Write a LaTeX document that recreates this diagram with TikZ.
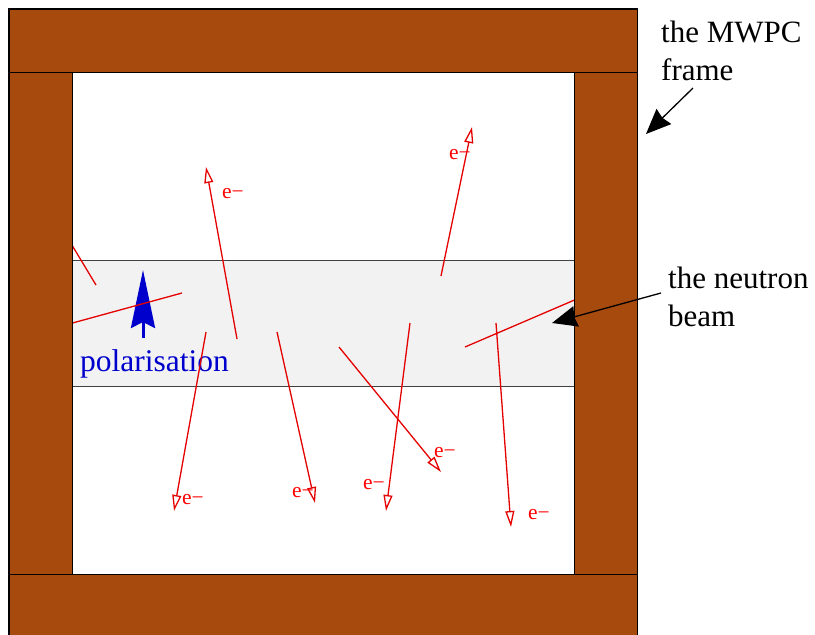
\documentclass[tikz,border=0pt]{standalone}
\usepackage{fontspec}
\setmainfont{Liberation Serif}
\usetikzlibrary{arrows.meta}
\definecolor{framebrown}{RGB}{166,74,14}
\definecolor{beamgrey}{RGB}{242,242,242}
\definecolor{polblue}{RGB}{0,0,205}
\begin{document}
\begin{tikzpicture}[
  x=1pt, y=-1pt,
  every node/.style={inner sep=0pt},
  frame/.style={draw=black, line width=1.3pt, fill=framebrown},
  beam/.style={draw=black!75, line width=1.3pt, fill=beamgrey},
  track/.style={draw=red!90!black, line width=1.3pt},
  electron/.style={track, -{Triangle[open, length=16pt, width=9pt]}},
  elabel/.style={anchor=base west, text=red, font=\fontsize{21.5}{25}\selectfont},
  note/.style={anchor=north west, align=left, font=\fontsize{31}{38}\selectfont},
  pointer/.style={line width=1.3pt, -{Stealth[length=25pt, width=21pt, inset=2pt]}},
  polarrow/.style={draw=polblue, line width=3pt, -{Stealth[length=58pt, width=24pt, inset=6pt]}}
]
\useasboundingbox (0,0) rectangle (815,635);

% the beam through the chamber
\draw[beam] (72.5,260.5) rectangle (574.5,386.5);

% polarisation
\node[anchor=base west, text=polblue, font=\fontsize{31.5}{36}\selectfont] (pollabel) at (80,371) {polarisation};
\coordinate (poltail) at (143,338);
\coordinate (poltip) at (143,270);
\draw[polarrow] (poltail) -- (poltip);

% electron tracks
\coordinate (a0) at (72.5,246);  \coordinate (a1) at (96,285);
\coordinate (b0) at (72.5,323);  \coordinate (b1) at (182,293);
\coordinate (c0) at (237,339);   \coordinate (c1) at (206,167);
\coordinate (d0) at (206,332);   \coordinate (d1) at (174,511);
\coordinate (e0) at (277,332);   \coordinate (e1) at (315,503);
\coordinate (f0) at (441,276);   \coordinate (f1) at (472,127);
\coordinate (g0) at (339,347);   \coordinate (g1) at (441,472);
\coordinate (h0) at (410,323);   \coordinate (h1) at (386,511);
\coordinate (i0) at (465,347);   \coordinate (i1) at (574.5,300);
\coordinate (j0) at (496,323);   \coordinate (j1) at (511,527);
\draw[track] (a0) -- (a1);
\draw[track] (b0) -- (b1);
\draw[track] (i0) -- (i1);
\draw[electron] (c0) -- (c1);
\draw[electron] (d0) -- (d1);
\draw[electron] (e0) -- (e1);
\draw[electron] (f0) -- (f1);
\draw[electron] (g0) -- (g1);
\draw[electron] (h0) -- (h1);
\draw[electron] (j0) -- (j1);
\node[elabel] (lc) at (222,198) {e−};
\node[elabel] (lf) at (449,159) {e−};
\node[elabel] (ld) at (182,504) {e−};
\node[elabel] (le) at (292,497) {e−};
\node[elabel] (lh) at (363,489) {e−};
\node[elabel] (lg) at (434,457) {e−};
\node[elabel] (lj) at (528,519) {e−};

% the MWPC frame
\draw[frame] (9,9) rectangle (637.5,72.5);
\draw[frame] (9,72.5) rectangle (72.5,574.5);
\draw[frame] (574.5,72.5) rectangle (637.5,574.5);
\draw[frame] (9,574.5) rectangle (637.5,640);

% annotations
\node[note] (mwpc) at (661,21) {the MWPC\\frame};
\node[note] (neutron) at (668,267) {the neutron\\beam};
\coordinate (mwpctail) at (693,88);
\coordinate (mwpctip) at (646,134);
\coordinate (beamtail) at (661,293);
\coordinate (beamtip) at (552,323);
\draw[pointer] (mwpctail) -- (mwpctip);
\draw[pointer] (beamtail) -- (beamtip);
\end{tikzpicture}
\end{document}
